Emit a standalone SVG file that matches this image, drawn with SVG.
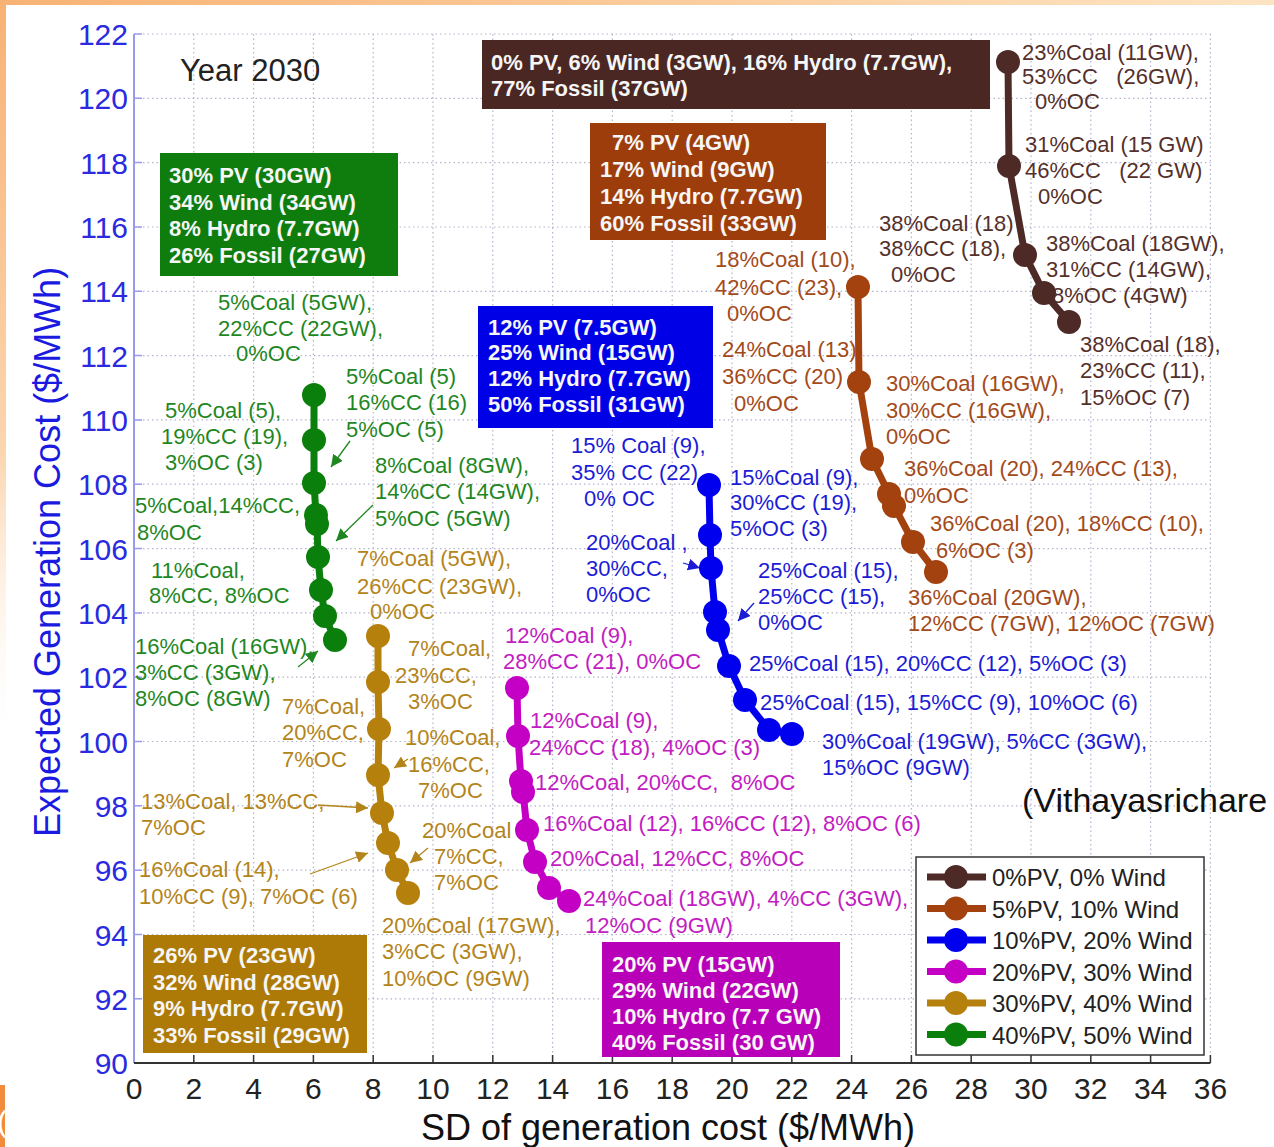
<svg xmlns="http://www.w3.org/2000/svg" width="1274" height="1147" viewBox="0 0 1274 1147">
<defs>
<style>
text{font-family:"Liberation Sans",Arial,sans-serif}
.l{font-size:22px}
.bx{font-size:22px;font-weight:bold;fill:#f6f6f6}
.cb{fill:#55302b}.cr{fill:#a34a1a}.cbl{fill:#1c1cd6}.cm{fill:#c21cc2}.cg{fill:#b3841a}.cgr{fill:#1f871f}
.yt{font-size:30px;fill:#2a2ae0;text-anchor:end}
.xt{font-size:30px;fill:#222;text-anchor:middle}
.grid{stroke:#b4b4cc;stroke-width:1.2;stroke-dasharray:1.5 3;fill:none}
.ser{fill:none;stroke-width:7;stroke-linejoin:round}
.arr{fill:none;stroke-width:1.3}
</style>
<linearGradient id="topband" x1="0" y1="0" x2="1" y2="0"><stop offset="0" stop-color="#f8b274"/><stop offset="1" stop-color="#fde4c2"/></linearGradient>
<linearGradient id="leftband" x1="0" y1="0" x2="0" y2="1"><stop offset="0" stop-color="#f8b274"/><stop offset="0.6" stop-color="#fbd6b0"/><stop offset="1" stop-color="#ffffff" stop-opacity="0"/></linearGradient>
<marker id="mBr" viewBox="-13 -13 26 26" markerWidth="26" markerHeight="26" markerUnits="userSpaceOnUse"><circle r="12" fill="#4d2a26"/></marker>
<marker id="mRu" viewBox="-13 -13 26 26" markerWidth="26" markerHeight="26" markerUnits="userSpaceOnUse"><circle r="12" fill="#a3420f"/></marker>
<marker id="mBl" viewBox="-13 -13 26 26" markerWidth="26" markerHeight="26" markerUnits="userSpaceOnUse"><circle r="12" fill="#0000ee"/></marker>
<marker id="mMa" viewBox="-13 -13 26 26" markerWidth="26" markerHeight="26" markerUnits="userSpaceOnUse"><circle r="12" fill="#c400c4"/></marker>
<marker id="mGo" viewBox="-13 -13 26 26" markerWidth="26" markerHeight="26" markerUnits="userSpaceOnUse"><circle r="12" fill="#b5800c"/></marker>
<marker id="mGr" viewBox="-13 -13 26 26" markerWidth="26" markerHeight="26" markerUnits="userSpaceOnUse"><circle r="12" fill="#0b7f0b"/></marker>
<marker id="aGr" viewBox="0 0 10 10" refX="10" refY="5" markerWidth="12" markerHeight="12" markerUnits="userSpaceOnUse" orient="auto"><path d="M0 0L10 5L0 10z" fill="#1f871f"/></marker>
<marker id="aBl" viewBox="0 0 10 10" refX="10" refY="5" markerWidth="12" markerHeight="12" markerUnits="userSpaceOnUse" orient="auto"><path d="M0 0L10 5L0 10z" fill="#1c1cd6"/></marker>
<marker id="aGo" viewBox="0 0 10 10" refX="10" refY="5" markerWidth="12" markerHeight="12" markerUnits="userSpaceOnUse" orient="auto"><path d="M0 0L10 5L0 10z" fill="#b3841a"/></marker>
</defs>
<rect width="1274" height="1147" fill="#ffffff"/>
<rect x="0" y="0" width="1274" height="5" fill="url(#topband)"/>
<rect x="0" y="0" width="6" height="760" fill="url(#leftband)"/>
<rect x="0" y="1085" width="5" height="62" fill="#f08c3c"/>
<text x="-3" y="1132" style="font-size:30px;fill:#ffffff">(</text>

<g id="grid">
<path class="grid" d="M193.8 34V1063M253.6 34V1063M313.4 34V1063M373.2 34V1063M433 34V1063M492.8 34V1063M552.6 34V1063M612.4 34V1063M672.2 34V1063M732 34V1063M791.8 34V1063M851.6 34V1063M911.4 34V1063M971.2 34V1063M1031 34V1063M1090.8 34V1063M1150.6 34V1063M1210.4 34V1063M134 34H1210.4M134 98.3H1210.4M134 162.6H1210.4M134 227H1210.4M134 291.3H1210.4M134 355.6H1210.4M134 419.9H1210.4M134 484.2H1210.4M134 548.6H1210.4M134 612.9H1210.4M134 677.2H1210.4M134 741.5H1210.4M134 805.8H1210.4M134 870.2H1210.4M134 934.5H1210.4M134 998.8H1210.4"/>
</g>

<g id="axes">
<path d="M134 34V1063" stroke="#9a9af5" stroke-width="2" fill="none"/>
<path d="M134 34h8M134 98.3h8M134 162.6h8M134 227h8M134 291.3h8M134 355.6h8M134 419.9h8M134 484.2h8M134 548.6h8M134 612.9h8M134 677.2h8M134 741.5h8M134 805.8h8M134 870.2h8M134 934.5h8M134 998.8h8" stroke="#9a9af5" stroke-width="1.5" fill="none"/>
<path d="M134 1063H1210.4" stroke="#333" stroke-width="2" fill="none"/>
<path d="M193.8 1063v-8M253.6 1063v-8M313.4 1063v-8M373.2 1063v-8M433 1063v-8M492.8 1063v-8M552.6 1063v-8M612.4 1063v-8M672.2 1063v-8M732 1063v-8M791.8 1063v-8M851.6 1063v-8M911.4 1063v-8M971.2 1063v-8M1031 1063v-8M1090.8 1063v-8M1150.6 1063v-8M1210.4 1063v-8" stroke="#333" stroke-width="1.5" fill="none"/>
<text class="yt" x="128" y="45">122</text>
<text class="yt" x="128" y="109.3">120</text>
<text class="yt" x="128" y="173.6">118</text>
<text class="yt" x="128" y="238">116</text>
<text class="yt" x="128" y="302.3">114</text>
<text class="yt" x="128" y="366.6">112</text>
<text class="yt" x="128" y="430.9">110</text>
<text class="yt" x="128" y="495.2">108</text>
<text class="yt" x="128" y="559.6">106</text>
<text class="yt" x="128" y="623.9">104</text>
<text class="yt" x="128" y="688.2">102</text>
<text class="yt" x="128" y="752.5">100</text>
<text class="yt" x="128" y="816.8">98</text>
<text class="yt" x="128" y="881.2">96</text>
<text class="yt" x="128" y="945.5">94</text>
<text class="yt" x="128" y="1009.8">92</text>
<text class="yt" x="128" y="1074">90</text>
<text class="xt" x="134" y="1099">0</text>
<text class="xt" x="193.8" y="1099">2</text>
<text class="xt" x="253.6" y="1099">4</text>
<text class="xt" x="313.4" y="1099">6</text>
<text class="xt" x="373.2" y="1099">8</text>
<text class="xt" x="433" y="1099">10</text>
<text class="xt" x="492.8" y="1099">12</text>
<text class="xt" x="552.6" y="1099">14</text>
<text class="xt" x="612.4" y="1099">16</text>
<text class="xt" x="672.2" y="1099">18</text>
<text class="xt" x="732" y="1099">20</text>
<text class="xt" x="791.8" y="1099">22</text>
<text class="xt" x="851.6" y="1099">24</text>
<text class="xt" x="911.4" y="1099">26</text>
<text class="xt" x="971.2" y="1099">28</text>
<text class="xt" x="1031" y="1099">30</text>
<text class="xt" x="1090.8" y="1099">32</text>
<text class="xt" x="1150.6" y="1099">34</text>
<text class="xt" x="1210.4" y="1099">36</text>
<text x="668" y="1140" text-anchor="middle" style="font-size:36px;fill:#111">SD of generation cost ($/MWh)</text>
<text transform="translate(60,552) rotate(-90)" text-anchor="middle" style="font-size:36px;fill:#1a1ae0">Expected Generation Cost ($/MWh)</text>
</g>

<text x="180" y="81" style="font-size:31px;fill:#222">Year 2030</text>
<text x="1022" y="812" style="font-size:34px;fill:#111">(Vithayasrichare</text>

<g id="box-dark">
<rect x="482" y="40" width="508" height="69" fill="#4b2723"/>
<text class="bx" x="491" y="70">0% PV, 6% Wind (3GW), 16% Hydro (7.7GW),</text>
<text class="bx" x="491" y="96">77% Fossil (37GW)</text>
</g>
<g id="box-rust">
<rect x="590" y="123" width="236" height="117" fill="#9d3d0b"/>
<text class="bx" x="612" y="150">7% PV (4GW)</text>
<text class="bx" x="600" y="177">17% Wind (9GW)</text>
<text class="bx" x="600" y="204">14% Hydro (7.7GW)</text>
<text class="bx" x="600" y="231">60% Fossil (33GW)</text>
</g>
<g id="box-green">
<rect x="160" y="153" width="238" height="123" fill="#0e7d0e"/>
<text class="bx" x="169" y="183">30% PV (30GW)</text>
<text class="bx" x="169" y="210">34% Wind (34GW)</text>
<text class="bx" x="169" y="236">8% Hydro (7.7GW)</text>
<text class="bx" x="169" y="263">26% Fossil (27GW)</text>
</g>
<g id="box-blue">
<rect x="478" y="306" width="235" height="122" fill="#0000e6"/>
<text class="bx" x="488" y="335">12% PV (7.5GW)</text>
<text class="bx" x="488" y="360">25% Wind (15GW)</text>
<text class="bx" x="488" y="386">12% Hydro (7.7GW)</text>
<text class="bx" x="488" y="412">50% Fossil (31GW)</text>
</g>
<g id="box-gold">
<rect x="143" y="935" width="224" height="118" fill="#ad7a07"/>
<text class="bx" x="153" y="963">26% PV (23GW)</text>
<text class="bx" x="153" y="990">32% Wind (28GW)</text>
<text class="bx" x="153" y="1016">9% Hydro (7.7GW)</text>
<text class="bx" x="153" y="1043">33% Fossil (29GW)</text>
</g>
<g id="box-magenta">
<rect x="602" y="942" width="238" height="115" fill="#b800b8"/>
<text class="bx" x="612" y="972">20% PV (15GW)</text>
<text class="bx" x="612" y="998">29% Wind (22GW)</text>
<text class="bx" x="612" y="1024">10% Hydro (7.7 GW)</text>
<text class="bx" x="612" y="1050">40% Fossil (30 GW)</text>
</g>

<g id="labels-dark" class="l cb">
<text x="1022" y="60">23%Coal (11GW),</text>
<text x="1022" y="84" xml:space="preserve">53%CC   (26GW),</text>
<text x="1035" y="109">0%OC</text>
<text x="1025" y="152">31%Coal (15 GW)</text>
<text x="1025" y="178" xml:space="preserve">46%CC   (22 GW)</text>
<text x="1038" y="204">0%OC</text>
<text x="879" y="231">38%Coal (18)</text>
<text x="879" y="256">38%CC (18),</text>
<text x="891" y="282">0%OC</text>
<text x="1046" y="251">38%Coal (18GW),</text>
<text x="1046" y="277">31%CC (14GW),</text>
<text x="1052" y="303">8%OC (4GW)</text>
<text x="1080" y="352">38%Coal (18),</text>
<text x="1080" y="378">23%CC (11),</text>
<text x="1080" y="405">15%OC (7)</text>
</g>
<g id="labels-rust" class="l cr">
<text x="715" y="267">18%Coal (10),</text>
<text x="715" y="295">42%CC (23),</text>
<text x="727" y="321">0%OC</text>
<text x="722" y="357">24%Coal (13)</text>
<text x="722" y="384">36%CC (20)</text>
<text x="734" y="411">0%OC</text>
<text x="886" y="391">30%Coal (16GW),</text>
<text x="886" y="418">30%CC (16GW),</text>
<text x="886" y="444">0%OC</text>
<text x="904" y="476">36%Coal (20), 24%CC (13),</text>
<text x="904" y="503">0%OC</text>
<text x="930" y="531">36%Coal (20), 18%CC (10),</text>
<text x="936" y="558">6%OC (3)</text>
<text x="908" y="605">36%Coal (20GW),</text>
<text x="908" y="631">12%CC (7GW), 12%OC (7GW)</text>
</g>
<g id="labels-blue" class="l cbl">
<text x="571" y="453">15% Coal (9),</text>
<text x="571" y="480">35% CC (22),</text>
<text x="584" y="506">0% OC</text>
<text x="730" y="485">15%Coal (9),</text>
<text x="730" y="510">30%CC (19),</text>
<text x="730" y="536">5%OC (3)</text>
<text x="586" y="550">20%Coal ,</text>
<text x="586" y="576">30%CC,</text>
<text x="586" y="602">0%OC</text>
<text x="758" y="578">25%Coal (15),</text>
<text x="758" y="604">25%CC (15),</text>
<text x="758" y="630">0%OC</text>
<text x="749" y="671">25%Coal (15), 20%CC (12), 5%OC (3)</text>
<text x="760" y="710">25%Coal (15), 15%CC (9), 10%OC (6)</text>
<text x="822" y="749">30%Coal (19GW), 5%CC (3GW),</text>
<text x="822" y="775">15%OC (9GW)</text>
</g>
<g id="labels-magenta" class="l cm">
<text x="505" y="643">12%Coal (9),</text>
<text x="503" y="669">28%CC (21), 0%OC</text>
<text x="530" y="728">12%Coal (9),</text>
<text x="529" y="755">24%CC (18), 4%OC (3)</text>
<text x="535" y="790" xml:space="preserve">12%Coal, 20%CC,  8%OC</text>
<text x="543" y="831">16%Coal (12), 16%CC (12), 8%OC (6)</text>
<text x="550" y="866">20%Coal, 12%CC, 8%OC</text>
<text x="583" y="906">24%Coal (18GW), 4%CC (3GW),</text>
<text x="585" y="933">12%OC (9GW)</text>
</g>
<g id="labels-gold" class="l cg">
<text x="357" y="566">7%Coal (5GW),</text>
<text x="357" y="594">26%CC (23GW),</text>
<text x="370" y="619">0%OC</text>
<text x="408" y="656">7%Coal,</text>
<text x="395" y="683">23%CC,</text>
<text x="408" y="709">3%OC</text>
<text x="282" y="714">7%Coal,</text>
<text x="282" y="740">20%CC,</text>
<text x="282" y="767">7%OC</text>
<text x="405" y="745">10%Coal,</text>
<text x="408" y="772">16%CC,</text>
<text x="418" y="798">7%OC</text>
<text x="141" y="809">13%Coal, 13%CC,</text>
<text x="141" y="835">7%OC</text>
<text x="139" y="877">16%Coal (14),</text>
<text x="139" y="904">10%CC (9), 7%OC (6)</text>
<text x="422" y="838">20%Coal</text>
<text x="434" y="864">7%CC,</text>
<text x="434" y="890">7%OC</text>
<text x="382" y="933">20%Coal (17GW),</text>
<text x="382" y="959">3%CC (3GW),</text>
<text x="382" y="986">10%OC (9GW)</text>
</g>
<g id="labels-green" class="l cgr">
<text x="218" y="310">5%Coal (5GW),</text>
<text x="218" y="336">22%CC (22GW),</text>
<text x="236" y="361">0%OC</text>
<text x="346" y="384">5%Coal (5)</text>
<text x="346" y="410">16%CC (16)</text>
<text x="346" y="437">5%OC (5)</text>
<text x="165" y="418">5%Coal (5),</text>
<text x="161" y="444">19%CC (19),</text>
<text x="165" y="470">3%OC (3)</text>
<text x="375" y="473">8%Coal (8GW),</text>
<text x="375" y="499">14%CC (14GW),</text>
<text x="375" y="526">5%OC (5GW)</text>
<text x="135" y="513">5%Coal,14%CC,</text>
<text x="137" y="540">8%OC</text>
<text x="151" y="578">11%Coal,</text>
<text x="149" y="603">8%CC, 8%OC</text>
<text x="135" y="654">16%Coal (16GW),</text>
<text x="135" y="680">3%CC (3GW),</text>
<text x="135" y="706">8%OC (8GW)</text>
</g>

<g id="connectors">
<path class="arr" stroke="#1f871f" marker-end="url(#aGr)" d="M350 441L331 467"/>
<path class="arr" stroke="#1f871f" marker-end="url(#aGr)" d="M373 505L336 541"/>
<path class="arr" stroke="#1f871f" marker-end="url(#aGr)" d="M298 667L318 651"/>
<path class="arr" stroke="#1c1cd6" marker-end="url(#aBl)" d="M683 563L700 568"/>
<path class="arr" stroke="#1c1cd6" marker-end="url(#aBl)" d="M754 603L738 621"/>
<path class="arr" stroke="#b3841a" marker-end="url(#aGo)" d="M408 759L394 768"/>
<path class="arr" stroke="#b3841a" marker-end="url(#aGo)" d="M318 805L368 808"/>
<path class="arr" stroke="#b3841a" marker-end="url(#aGo)" d="M310 874L368 853"/>
<path class="arr" stroke="#b3841a" marker-end="url(#aGo)" d="M428 848L410 863"/>
</g>

<g id="series">
<polyline class="ser" stroke="#4d2a26" marker-start="url(#mBr)" marker-mid="url(#mBr)" marker-end="url(#mBr)" points="1008,62 1009,166 1025,255 1044,293 1069,322"/>
<polyline class="ser" stroke="#a3420f" marker-start="url(#mRu)" marker-mid="url(#mRu)" marker-end="url(#mRu)" points="858,287 859,382 872,459 889,494 894,506 913,542 936,572"/>
<polyline class="ser" stroke="#0000ee" marker-start="url(#mBl)" marker-mid="url(#mBl)" marker-end="url(#mBl)" points="709,485 710,535 711,568 715,612 718,630 729,666 745,700 769,730 792,734"/>
<polyline class="ser" stroke="#c400c4" marker-start="url(#mMa)" marker-mid="url(#mMa)" marker-end="url(#mMa)" points="517,688 518,736 521,781 523,792 527,830 535,862 549,888 569,901"/>
<polyline class="ser" stroke="#b5800c" marker-start="url(#mGo)" marker-mid="url(#mGo)" marker-end="url(#mGo)" points="378,636 378,682 379,729 378,775 382,813 388,843 397,870 408,893"/>
<polyline class="ser" stroke="#0b7f0b" marker-start="url(#mGr)" marker-mid="url(#mGr)" marker-end="url(#mGr)" points="314,395 314,440 314,483 316,515 317,524 318,557 321,590 325,616 335,640"/>
</g>

<g id="legend">
<rect x="916" y="857" width="288" height="198" fill="#ffffff" stroke="#333" stroke-width="1.5"/>
<g style="font-size:24px;fill:#222">
<path d="M927 877H986" stroke="#4d2a26" stroke-width="7"/><circle cx="956" cy="877" r="12" fill="#4d2a26"/><text x="992" y="886">0%PV, 0% Wind</text>
<path d="M927 908.5H986" stroke="#a3420f" stroke-width="7"/><circle cx="956" cy="908.5" r="12" fill="#a3420f"/><text x="992" y="917.5">5%PV, 10% Wind</text>
<path d="M927 940H986" stroke="#0000ee" stroke-width="7"/><circle cx="956" cy="940" r="12" fill="#0000ee"/><text x="992" y="949">10%PV, 20% Wind</text>
<path d="M927 971.5H986" stroke="#c400c4" stroke-width="7"/><circle cx="956" cy="971.5" r="12" fill="#c400c4"/><text x="992" y="980.5">20%PV, 30% Wind</text>
<path d="M927 1003H986" stroke="#b5800c" stroke-width="7"/><circle cx="956" cy="1003" r="12" fill="#b5800c"/><text x="992" y="1012">30%PV, 40% Wind</text>
<path d="M927 1034.5H986" stroke="#0b7f0b" stroke-width="7"/><circle cx="956" cy="1034.5" r="12" fill="#0b7f0b"/><text x="992" y="1043.5">40%PV, 50% Wind</text>
</g>
</g>
</svg>
